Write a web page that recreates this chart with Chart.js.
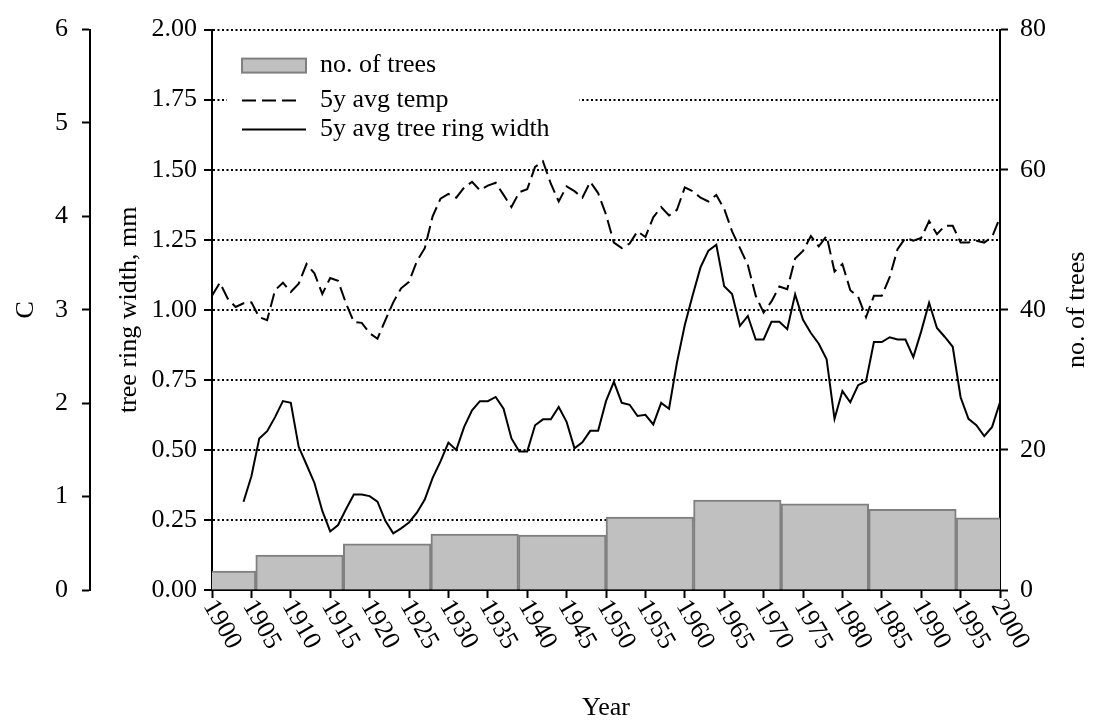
<!DOCTYPE html>
<html>
<head>
<meta charset="utf-8">
<script src="https://cdn.jsdelivr.net/npm/chart.js@4.4.1/dist/chart.umd.min.js"></script>
<style>
  html, body { margin: 0; padding: 0; background: #fff; }
</style>
</head>
<body>
<canvas id="myChart" width="1098" height="725"></canvas>
<script>
const years = Array.from({ length: 101 }, (_, i) => 1900 + i);

// 5y avg temperature, C (read on the far left axis)
const tempC = [
    3.15, 3.29, 3.12, 3.03, 3.07, 3.08, 2.92, 2.89, 3.21, 3.29,
    3.19, 3.28, 3.49, 3.39, 3.17, 3.34, 3.31, 3.07, 2.87, 2.86,
    2.75, 2.69, 2.89, 3.08, 3.23, 3.30, 3.52, 3.66, 4.00, 4.19,
    4.24, 4.20, 4.31, 4.37, 4.28, 4.33, 4.36, 4.23, 4.10, 4.26,
    4.29, 4.53, 4.59, 4.35, 4.16, 4.32, 4.27, 4.20, 4.37, 4.25,
    4.02, 3.72, 3.66, 3.71, 3.84, 3.78, 3.99, 4.10, 4.01, 4.07,
    4.31, 4.27, 4.20, 4.16, 4.23, 4.08, 3.84, 3.66, 3.48, 3.15,
    2.97, 3.09, 3.25, 3.22, 3.55, 3.63, 3.79, 3.68, 3.79, 3.41,
    3.49, 3.21, 3.14, 2.92, 3.15, 3.15, 3.35, 3.65, 3.77, 3.74,
    3.77, 3.95, 3.81, 3.90, 3.90, 3.72, 3.72, 3.74, 3.72, 3.78,
    3.99
];

// 5y avg tree ring width, mm
const ringWidth = [
    null, null, null, null, 0.315, 0.406, 0.541, 0.567, 0.617, 0.674,
    0.668, 0.511, 0.447, 0.382, 0.282, 0.209, 0.232, 0.288, 0.341, 0.341,
    0.335, 0.315, 0.247, 0.202, 0.220, 0.241, 0.276, 0.323, 0.400, 0.459,
    0.526, 0.500, 0.582, 0.641, 0.674, 0.674, 0.689, 0.647, 0.541, 0.494,
    0.494, 0.588, 0.609, 0.609, 0.653, 0.600, 0.506, 0.527, 0.568, 0.568,
    0.674, 0.743, 0.668, 0.661, 0.621, 0.625, 0.591, 0.668, 0.647, 0.811,
    0.946, 1.052, 1.152, 1.211, 1.232, 1.084, 1.056, 0.943, 0.978, 0.894,
    0.894, 0.957, 0.957, 0.931, 1.055, 0.964, 0.917, 0.879, 0.823, 0.611,
    0.710, 0.670, 0.731, 0.745, 0.885, 0.885, 0.902, 0.894, 0.894, 0.831,
    0.923, 1.025, 0.935, 0.903, 0.868, 0.688, 0.611, 0.588, 0.549, 0.582,
    0.670
];

// no. of trees, one bar per period
const barLabels = ['1900', '1911', '1922', '1933', '1944', '1956', '1967', '1978', '1989', '2000'];
const trees = [2.7, 5.0, 6.6, 8.0, 7.85, 10.4, 12.85, 12.3, 11.5, 10.3];

const serif = "'Liberation Serif', 'Times New Roman', serif";
Chart.defaults.font.family = serif;
Chart.defaults.font.size = 26;
Chart.defaults.color = '#000';

// year labels turned clockwise, right axis title and the legend box
const extras = {
    id: 'extras',
    afterDraw(chart) {
        const c = chart.ctx;
        const area = chart.chartArea;
        const xs = chart.scales.x;
        c.save();
        c.fillStyle = '#000';
        c.font = '26px ' + serif;
        xs.ticks.forEach(t => {
            const px = xs.getPixelForValue(t.value);
            c.save();
            c.translate(px - 3, area.bottom + 12);
            c.rotate(Math.PI / 3);
            c.textAlign = 'left';
            c.textBaseline = 'middle';
            c.fillText(String(t.value), 0, 0);
            c.restore();
        });

        const yn = chart.scales.yN;
        c.save();
        c.translate(yn.right - 21, (area.top + area.bottom) / 2);
        c.rotate(-Math.PI / 2);
        c.textAlign = 'center';
        c.textBaseline = 'middle';
        c.fillText('no. of trees', 0, 0);
        c.restore();

        const ds = chart.data.datasets;
        const lx = area.left + 30;
        const rows = [area.top + 36, area.top + 71, area.top + 100];
        c.fillStyle = '#fff';
        c.fillRect(area.left + 15, area.top + 12, 352, 108);

        c.fillStyle = ds[0].backgroundColor;
        c.fillRect(lx, rows[0] - 7, 64, 14);
        c.strokeStyle = ds[0].borderColor;
        c.lineWidth = 2;
        c.strokeRect(lx, rows[0] - 7, 64, 14);

        c.strokeStyle = '#000';
        c.setLineDash(ds[1].borderDash);
        c.beginPath(); c.moveTo(lx, rows[1]); c.lineTo(lx + 60, rows[1]); c.stroke();
        c.setLineDash([]);
        c.beginPath(); c.moveTo(lx, rows[2]); c.lineTo(lx + 64, rows[2]); c.stroke();

        c.fillStyle = '#000';
        c.font = '26px ' + serif;
        c.textAlign = 'left';
        c.textBaseline = 'middle';
        ds.forEach((d, i) => c.fillText(d.label, lx + 78, rows[i]));
        c.restore();
    }
};

const ctx = document.getElementById('myChart').getContext('2d');
const myChart = new Chart(ctx, {
    type: 'line',
    data: {
        labels: years,
        datasets: [{
            type: 'bar',
            label: 'no. of trees',
            data: trees,
            xAxisID: 'xBar',
            yAxisID: 'yN',
            backgroundColor: '#c0c0c0',
            borderColor: '#808080',
            borderWidth: 2,
            categoryPercentage: 1,
            barPercentage: 1,
            grouped: false,
            clip: 0,
            order: 2
        }, {
            label: '5y avg temp',
            data: tempC,
            xAxisID: 'x',
            yAxisID: 'yC',
            borderColor: '#000',
            borderWidth: 2,
            borderDash: [14, 6],
            pointRadius: 0,
            fill: false,
            order: 1
        }, {
            label: '5y avg tree ring width',
            data: ringWidth,
            xAxisID: 'x',
            yAxisID: 'yW',
            borderColor: '#000',
            borderWidth: 2,
            pointRadius: 0,
            fill: false,
            order: 0
        }]
    },
    options: {
        responsive: false,
        animation: false,
        layout: { padding: { top: 23, left: 0, right: 0, bottom: 0 } },
        plugins: { legend: { display: false }, tooltip: { enabled: false } },
        scales: {
            x: {
                type: 'linear',
                position: 'bottom',
                min: 1900,
                max: 2000,
                offset: false,
                ticks: { stepSize: 5, display: false },
                grid: { drawOnChartArea: false, tickLength: 8, tickWidth: 2, tickColor: '#000' },
                border: { color: '#000', width: 2 },
                title: { display: true, text: 'Year', padding: { top: 0, bottom: 1 } },
                afterFit: s => { s.height = 135; }
            },
            xBar: {
                type: 'category',
                labels: barLabels,
                display: false,
                offset: false
            },
            yW: {
                position: 'left',
                weight: 0,
                min: 0,
                max: 2,
                ticks: { stepSize: 0.25, padding: 7, callback: v => v.toFixed(2) },
                grid: { color: '#000', lineWidth: 2, tickLength: 8, tickWidth: 2, tickColor: '#000', tickBorderDash: [] },
                border: { color: '#000', width: 2, dash: [2, 2.5] },
                title: { display: true, text: 'tree ring width, mm', padding: { top: 24, bottom: 0 } },
                afterFit: s => { s.width = 122; }
            },
            yC: {
                position: 'left',
                weight: 1,
                min: 0,
                max: 6,
                ticks: { stepSize: 1, padding: 14 },
                grid: { drawOnChartArea: false, tickLength: 8, tickWidth: 2, tickColor: '#000' },
                border: { color: '#000', width: 2 },
                title: { display: true, text: 'C', padding: { top: 11, bottom: 0 } },
                afterFit: s => { s.width = 90; }
            },
            yN: {
                position: 'right',
                min: 0,
                max: 80,
                ticks: { stepSize: 20, padding: 12 },
                grid: { drawOnChartArea: false, tickLength: 8, tickWidth: 2, tickColor: '#000' },
                border: { color: '#000', width: 2 },
                afterFit: s => { s.width = 98; }
            }
        }
    },
    plugins: [extras]
});
</script>
</body>
</html>
